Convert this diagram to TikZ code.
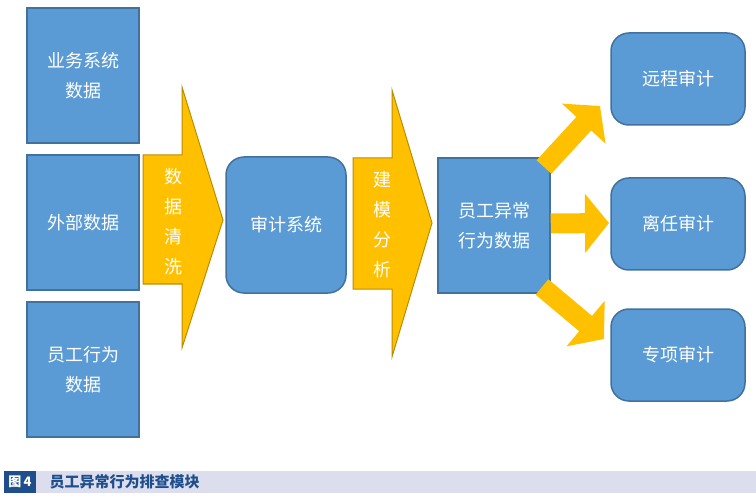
\documentclass[tikz,border=0pt]{standalone}
\usepackage{fontspec}
\setmainfont{Noto Sans CJK SC}
\usetikzlibrary{arrows.meta,positioning}
\definecolor{boxblue}{HTML}{5B9BD5}
\definecolor{boxline}{HTML}{41719C}
\definecolor{gold}{HTML}{FFC000}
\definecolor{goldline}{HTML}{BC8C00}
\definecolor{barlav}{HTML}{DCDEEE}
\definecolor{bardark}{HTML}{1F4E8C}
\tikzset{
  box/.style={draw=boxline, line width=1.5pt, fill=boxblue, text=white, align=center,
    font=\fontsize{18}{30}\selectfont, inner sep=0pt},
  rbox/.style={box, rounded corners=18pt},
  chev/.style={draw=goldline, line width=1pt, fill=gold},
  vtext/.style={text=white, align=center, font=\fontsize{18}{30}\selectfont},
  fat/.style={draw=gold, line width=20pt, -{Triangle[width=58pt,length=24pt]}}
}
\begin{document}
\begin{tikzpicture}[x=1pt,y=-1pt]
    \useasboundingbox (0,0) rectangle (756,500);

    % sources
    \node[box, minimum width=112pt, minimum height=135pt] (biz) at (83,75.5) {业务系统\\数据};
    \node[box, minimum width=112pt, minimum height=135pt] (ext) at (83,222.5) {外部数据};
    \node[box, minimum width=112pt, minimum height=135pt] (emp) at (83,369.5) {员工行为\\数据};

    % cleaning arrow
    \draw[chev] (143,155) -- (182,155) -- (182,87) -- (223,220) -- (182,348) -- (182,284) -- (143,284) -- cycle;
    \node[vtext] (clean) at (173,222) {数\\据\\清\\洗};

    \node[rbox, minimum width=120pt, minimum height=136pt] (audit) at (286,225) {审计系统};

    % modelling arrow
    \draw[chev] (353,158) -- (392,158) -- (392,90) -- (432,223) -- (392,357) -- (392,289) -- (353,289) -- cycle;
    \node[vtext] (model) at (382,225) {建\\模\\分\\析};

    \node[box, minimum width=112pt, minimum height=135pt] (abn) at (494,225.5) {员工异常\\行为数据};

    % targets
    \node[rbox, minimum width=134pt, minimum height=92pt] (remote) at (678,79) {远程审计};
    \node[rbox, minimum width=134pt, minimum height=92pt] (leave) at (678,224) {离任审计};
    \node[rbox, minimum width=134pt, minimum height=92pt] (special) at (678,355) {专项审计};

    \coordinate (t1) at (600,106);
    \coordinate (t2) at (609,223);
    \coordinate (t3) at (604,339);
    \draw[fat] (544,167) -- (t1);
    \draw[fat] (abn.east) ++(0,-2) -- (t2);
    \draw[fat] (542,287) -- (t3);

    % caption
    \fill[barlav] (4,471) rectangle (756,493);
    \fill[bardark] (4,471) rectangle (36,493);
    \node[text=white, font=\bfseries\fontsize{13}{14}\selectfont] (fig) at (20,482) {图\,4};
    \node[anchor=west, text=bardark, font=\bfseries\fontsize{15}{16}\selectfont] (cap) at (46,482) {员工异常行为排查模块};
\end{tikzpicture}
\end{document}
